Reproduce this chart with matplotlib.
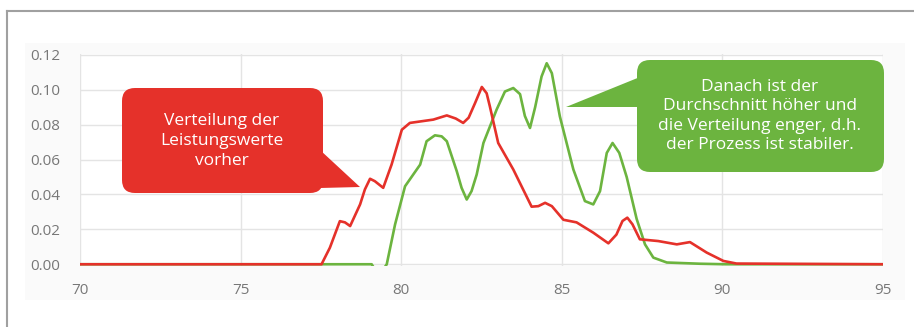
import matplotlib.pyplot as plt
from matplotlib.patches import FancyBboxPatch, Polygon, Rectangle
import numpy as np

# Daten (Leistungswerte vs. Dichte)
x_vorher = [70.0, 77.52, 77.78, 78.09, 78.25, 78.41, 78.72, 78.87, 79.03, 79.18,
            79.44, 79.70, 80.02, 80.27, 81.00, 81.42, 81.70, 81.93, 82.10, 82.30,
            82.51, 82.66, 82.76, 83.02, 83.49, 84.06, 84.27, 84.48, 84.69, 85.05,
            85.46, 85.98, 86.45, 86.70, 86.89, 87.04, 87.20, 87.43, 88.00, 88.58,
            88.99, 89.51, 90.03, 90.44, 95.0]
y_vorher = [0.0, 0.0, 0.0095, 0.0247, 0.0240, 0.0219, 0.0343, 0.0429, 0.0490, 0.0476,
            0.0438, 0.0571, 0.0771, 0.0810, 0.0829, 0.0853, 0.0835, 0.0810, 0.0840, 0.0924,
            0.1016, 0.0980, 0.0905, 0.0695, 0.0543, 0.0330, 0.0333, 0.0352, 0.0333, 0.0255,
            0.0240, 0.0181, 0.0120, 0.0170, 0.0248, 0.0267, 0.0229, 0.0143, 0.0133, 0.0114,
            0.0127, 0.0067, 0.0019, 0.0004, 0.0]

x_nachher = [70.0, 79.08, 79.22, 79.40, 79.55, 79.81, 80.12, 80.59, 80.79, 81.05,
             81.26, 81.42, 81.73, 81.88, 82.04, 82.19, 82.35, 82.56, 82.97, 83.23,
             83.49, 83.70, 83.85, 84.01, 84.17, 84.37, 84.53, 84.69, 84.94, 85.36,
             85.72, 85.98, 86.19, 86.40, 86.58, 86.79, 87.02, 87.33, 87.59, 87.85,
             88.27, 89.30, 90.10, 95.0]
y_nachher = [0.0, 0.0, -0.004, -0.004, 0.0, 0.0229, 0.0447, 0.0571, 0.0705, 0.0739,
             0.0733, 0.0705, 0.0533, 0.0438, 0.0371, 0.0419, 0.0514, 0.0695, 0.0886, 0.0990,
             0.1010, 0.0975, 0.0850, 0.0781, 0.0900, 0.1076, 0.1152, 0.1095, 0.0847, 0.0543,
             0.0362, 0.0343, 0.0419, 0.0638, 0.0695, 0.0638, 0.0500, 0.0260, 0.0114, 0.0038,
             0.0010, 0.0003, 0.0, 0.0]

x_ticks = [70, 75, 80, 85, 90, 95]
y_ticks = [0.00, 0.02, 0.04, 0.06, 0.08, 0.10, 0.12]

text_rot = "Verteilung der\nLeistungswerte\nvorher"
text_gruen = "Danach ist der\nDurchschnitt höher und\ndie Verteilung enger, d.h.\nder Prozess ist stabiler."

rot = '#e5312a'
gruen = '#6cb43f'

W, H = 914, 327
fig = plt.figure(figsize=(W / 100, H / 100), dpi=100)
plt.rcParams['font.family'] = ['Open Sans', 'DejaVu Sans']

# Hintergrund und Rahmen (Pixelkoordinaten)
bg = fig.add_axes([0, 0, 1, 1], zorder=0)
bg.set_xlim(0, W)
bg.set_ylim(H, 0)
bg.axis('off')
bg.add_patch(Rectangle((25, 43), 880, 257, facecolor='#fafafa', edgecolor='none'))
bg.plot([7, W], [11, 11], color='#a0a0a0', lw=1.5)
bg.plot([7, 7], [11, H], color='#a0a0a0', lw=1.5)

# Hauptdiagramm
ax = fig.add_axes([80 / W, 1 - 266 / H, 803 / W, 212 / H], zorder=1)
ax.set_facecolor('white')
ax.plot(x_nachher, y_nachher, color=gruen, lw=1.9, zorder=3, solid_joinstyle='round')
ax.plot(x_vorher, y_vorher, color=rot, lw=1.9, zorder=4, solid_joinstyle='round')
ax.set_xlim(70, 95)
ax.set_ylim(-0.001, 0.1205)
ax.set_xticks(x_ticks)
ax.set_yticks(y_ticks)
ax.set_yticklabels([f'{v:.2f}' for v in y_ticks])
ax.grid(True, color='#e4e4e4', lw=1)
ax.set_axisbelow(True)
for s in ax.spines.values():
    s.set_visible(False)
ax.tick_params(length=0, labelsize=11, labelcolor='#777777')
ax.tick_params(axis='y', pad=14)
ax.tick_params(axis='x', pad=12)

# Sprechblasen
top = fig.add_axes([0, 0, 1, 1], zorder=2)
top.set_xlim(0, W)
top.set_ylim(H, 0)
top.axis('off')
top.patch.set_alpha(0)

top.add_patch(FancyBboxPatch((122, 88), 201, 105, boxstyle='round,pad=0,rounding_size=13',
                             facecolor=rot, edgecolor='none'))
top.add_patch(Polygon([(320, 150), (360, 187), (320, 188)], closed=True,
                      facecolor=rot, edgecolor='none'))
top.text(222, 141, text_rot, color='white', fontsize=12.5, ha='center', va='center',
         linespacing=1.3)

top.add_patch(FancyBboxPatch((637, 60), 247, 112, boxstyle='round,pad=0,rounding_size=13',
                             facecolor=gruen, edgecolor='none'))
top.add_patch(Polygon([(566, 107), (640, 77), (640, 107)], closed=True,
                      facecolor=gruen, edgecolor='none'))
top.text(760, 116, text_gruen, color='white', fontsize=12.5, ha='center', va='center',
         linespacing=1.3)

fig.savefig('out.png', dpi=100)
